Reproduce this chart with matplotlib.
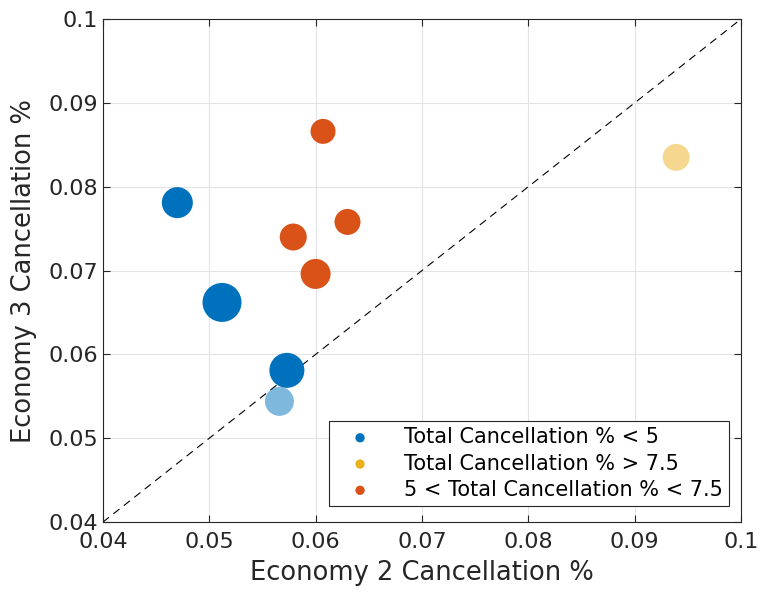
# scatter of economy cancellation rates, grouped by total cancellation
import matplotlib
matplotlib.use('Agg')
import matplotlib.pyplot as plt
import numpy as np

# data
blue_x = [0.0470, 0.0512, 0.0573]
blue_y = [0.0781, 0.0662, 0.0581]
blue_s = [31, 39, 35]

light_blue_x = [0.0566]
light_blue_y = [0.0544]
light_blue_s = [29]

orange_x = [0.0607, 0.0579, 0.0630, 0.0600]
orange_y = [0.0866, 0.0740, 0.0758, 0.0696]
orange_s = [25, 27, 26, 30]

yellow_x = [0.0939]
yellow_y = [0.0835]
yellow_s = [27]

ticks = [0.04, 0.05, 0.06, 0.07, 0.08, 0.09, 0.1]
tick_labels = ['0.04', '0.05', '0.06', '0.07', '0.08', '0.09', '0.1']

BLUE = '#0072BD'
ORANGE = '#D95319'
YELLOW = '#EDB120'

plt.rcParams['font.family'] = ['DejaVu Sans']


def area(diams):
    # marker diameter in px (dpi 100) -> points^2
    return [(d * 0.72) ** 2 for d in diams]


fig = plt.figure(figsize=(7.62, 5.94), dpi=100)
ax = fig.add_axes([0.135, 0.121, 0.8375, 0.847])

ax.plot([0.04, 0.1], [0.04, 0.1], color='black', linestyle=(0, (7, 5)), linewidth=0.8, zorder=1)

ax.scatter(blue_x, blue_y, s=area(blue_s), color=BLUE, edgecolors='none', zorder=3)
ax.scatter(light_blue_x, light_blue_y, s=area(light_blue_s), color=BLUE, alpha=0.5,
           edgecolors='none', zorder=3)
ax.scatter(yellow_x, yellow_y, s=area(yellow_s), color=YELLOW, alpha=0.5,
           edgecolors='none', zorder=3)
ax.scatter(orange_x, orange_y, s=area(orange_s), color=ORANGE, edgecolors='none', zorder=3)

# legend handles
h1 = ax.scatter([], [], s=45, color=BLUE, edgecolors='none')
h2 = ax.scatter([], [], s=45, color=YELLOW, edgecolors='none')
h3 = ax.scatter([], [], s=45, color=ORANGE, edgecolors='none')
leg = ax.legend([h1, h2, h3],
                ['Total Cancellation % < 5', 'Total Cancellation % > 7.5',
                 '5 < Total Cancellation % < 7.5'],
                loc='lower right', bbox_to_anchor=(0.981, 0.032),
                frameon=True, fancybox=False, borderpad=0.3, labelspacing=0.3,
                handlelength=2.4, handletextpad=0.9, borderaxespad=0,
                prop={'family': 'DejaVu Sans', 'size': 15})
leg.get_frame().set_edgecolor('#262626')
leg.get_frame().set_linewidth(0.8)
leg.get_frame().set_alpha(1)

ax.set_xlim(0.04, 0.1)
ax.set_ylim(0.04, 0.1)
ax.set_xticks(ticks)
ax.set_xticklabels(tick_labels)
ax.set_yticks(ticks)
ax.set_yticklabels(tick_labels)
ax.tick_params(direction='in', labelsize=16, colors='#262626', length=5, top=True, right=True)
ax.tick_params(axis='x', pad=7)
ax.grid(True, color='#e3e3e3', linewidth=0.8)
ax.set_axisbelow(True)
for sp in ax.spines.values():
    sp.set_color('#262626')
    sp.set_linewidth(0.8)

ax.set_xlabel('Economy 2 Cancellation %', fontsize=18.5, color='#262626', labelpad=6)
ax.set_ylabel('Economy 3 Cancellation %', fontsize=18.5, color='#262626', labelpad=8)

fig.savefig('out.png', dpi=100)
